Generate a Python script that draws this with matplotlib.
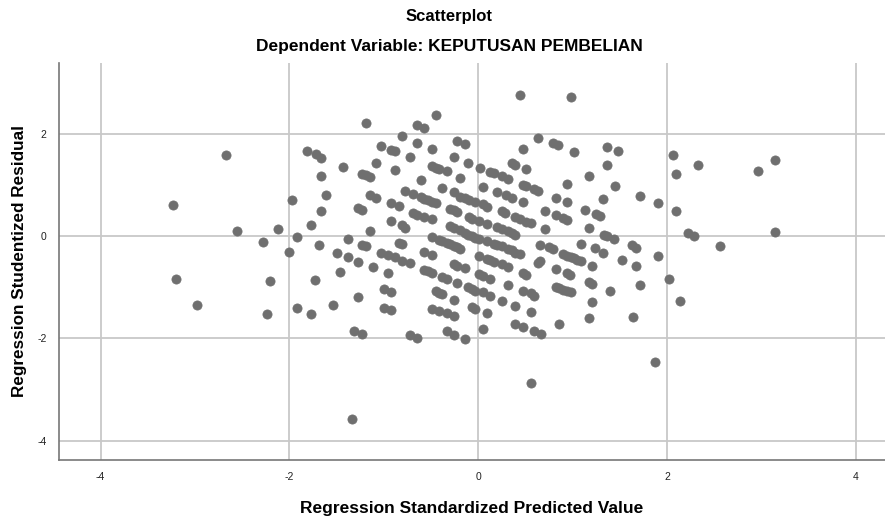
import matplotlib
matplotlib.use("Agg")
import matplotlib.pyplot as plt

plt.rcParams['font.family'] = ['Liberation Sans', 'DejaVu Sans']

pred = [0.44, 0.98, -0.45, -1.19, -0.65, -0.57, -0.81, 0.63, -0.22, -0.14, -0.65, 0.79, 0.85, -1.03, 1.36,
        -0.92, -0.88, -0.49, 0.48, 1.48, 1.02, -1.81, -1.72, -1.66, -2.67, 2.06, -0.72, -0.26, 3.15, -1.08,
        -0.11, 0.36, 0.39, -1.43, 1.36, 2.33, -0.49, -0.45, -0.41, -0.33, 0.02, 0.51, -0.88, 2.96, 0.13,
        0.17, 0.25, 0.32, -1.23, -1.19, -1.15, -1.66, 1.17, 2.10, -0.19, -0.61, 0.94, 0.48, 0.51, 0.59,
        0.63, 1.45, 0.05, -0.38, 0.20, 0.29, 0.36, -0.26, -0.77, -0.69, -0.61, -0.57, -0.53, -0.49, -0.45,
        -1.61, -1.15, -1.08, -0.19, -0.14, -0.10, -0.03, 0.05, 0.09, 0.82, 1.71, 1.32, -1.97, -3.23, 1.91,
        0.94, 0.47, -0.92, -0.84, 2.10, -1.27, -1.23, -0.30, -0.26, -0.22, 0.25, 0.28, 1.13, 0.71, -1.66,
        -0.69, -0.65, -0.57, -0.49, 0.82, 0.90, 0.94, 1.25, 1.29, -0.10, -0.06, 0.01, 0.39, 0.44, 0.51,
        0.56, -0.92, 0.09, -1.77, -0.81, -0.77, -0.30, -0.26, -0.19, 0.20, 0.25, 0.32, 0.36, 0.39, 1.17,
        0.71, -2.12, -2.55, -1.15, 3.15, 2.22, 2.29, 1.33, 1.37, 1.44, -0.14, -0.11, -0.07, -0.03, 0.01,
        0.09, -1.92, -0.49, -0.41, -0.38, -0.33, -0.30, -0.26, -0.22, -0.19, -1.38, -2.28, 0.17, 0.20,
        0.25, 0.32, 0.36, 0.39, 0.44, 1.09, -0.84, -0.81, -1.23, -1.19, 0.66, 0.75, 0.79, 1.63, 1.67,
        2.56, -1.69, 1.24, 1.32, -2.00, -0.57, -0.49, -1.50, -1.03, -0.96, -0.88, -0.81, -0.72, 0.01,
        0.09, 0.13, 0.17, 0.25, 0.32, 0.90, 0.94, 0.98, 1.02, 1.05, 1.09, 1.91, -1.38, -1.27, 1.52,
        -0.26, -0.22, -0.14, -1.11, -0.57, -0.53, -0.49, 0.66, 0.63, 1.21, 1.67, 0.82, 0.47, 0.51, 0.94,
        0.97, -1.46, -0.96, 0.01, 0.05, -0.38, -0.33, 0.13, -1.73, -3.20, -2.20, 2.02, -0.22, 0.32, 1.17,
        1.21, 1.71, 0.82, 0.86, 0.90, 0.94, 0.98, -0.11, -0.07, -0.03, 0.05, -1.00, -0.92, -0.45, -0.41,
        -0.38, 0.47, 0.56, 0.59, 1.40, 0.13, -1.27, -0.26, 0.25, 1.21, 2.14, -1.54, -2.98, 0.39, -0.07,
        -0.03, -1.00, -0.92, -0.49, -0.41, -1.92, 0.09, -0.33, -0.26, 0.56, -1.77, -2.24, 1.64, 1.17,
        0.39, 0.47, 0.86, 0.05, 0.59, 0.67, -1.31, -1.23, -0.33, -0.26, -0.72, -0.65, -0.14, 1.87, 0.56,
        -1.34]

resid = [2.76, 2.72, 2.38, 2.22, 2.17, 2.12, 1.97, 1.93, 1.86, 1.81, 1.83, 1.83, 1.79, 1.77, 1.75,
         1.69, 1.66, 1.71, 1.70, 1.66, 1.64, 1.66, 1.61, 1.53, 1.58, 1.58, 1.54, 1.54, 1.50, 1.44,
         1.43, 1.44, 1.40, 1.36, 1.40, 1.39, 1.37, 1.34, 1.31, 1.28, 1.34, 1.32, 1.30, 1.28, 1.26,
         1.24, 1.18, 1.12, 1.22, 1.19, 1.15, 1.18, 1.18, 1.21, 1.14, 1.10, 1.02, 1.01, 0.98, 0.93,
         0.89, 0.99, 0.96, 0.94, 0.87, 0.81, 0.74, 0.87, 0.88, 0.82, 0.76, 0.73, 0.70, 0.67, 0.65,
         0.80, 0.80, 0.75, 0.76, 0.74, 0.71, 0.67, 0.62, 0.58, 0.75, 0.79, 0.72, 0.71, 0.61, 0.65,
         0.67, 0.66, 0.65, 0.60, 0.50, 0.56, 0.52, 0.54, 0.52, 0.48, 0.49, 0.45, 0.52, 0.49, 0.49,
         0.45, 0.41, 0.37, 0.34, 0.41, 0.36, 0.32, 0.43, 0.40, 0.37, 0.34, 0.30, 0.38, 0.34, 0.28,
         0.25, 0.29, 0.24, 0.22, 0.21, 0.16, 0.19, 0.16, 0.12, 0.18, 0.14, 0.10, 0.06, 0.02, 0.16,
         0.14, 0.14, 0.10, 0.11, 0.08, 0.07, 0.01, 0.03, 0.00, -0.05, 0.06, 0.03, 0.00, -0.03, -0.05,
         -0.09, -0.02, -0.02, -0.08, -0.10, -0.14, -0.16, -0.19, -0.22, -0.25, -0.06, -0.11, -0.16, -0.18,
         -0.20, -0.25, -0.28, -0.32, -0.35, -0.16, -0.13, -0.16, -0.17, -0.20, -0.17, -0.22, -0.25, -0.18, -0.23,
         -0.19, -0.17, -0.24, -0.33, -0.31, -0.31, -0.36, -0.33, -0.33, -0.37, -0.41, -0.49, -0.53, -0.38,
         -0.44, -0.47, -0.50, -0.54, -0.61, -0.34, -0.38, -0.40, -0.42, -0.46, -0.49, -0.39, -0.41, -0.50, -0.46,
         -0.54, -0.58, -0.62, -0.61, -0.67, -0.69, -0.72, -0.49, -0.52, -0.58, -0.58, -0.65, -0.73, -0.76, -0.72,
         -0.76, -0.71, -0.73, -0.74, -0.77, -0.80, -0.83, -0.83, -0.86, -0.83, -0.87, -0.83, -0.92, -0.95, -0.89,
         -0.93, -0.95, -0.99, -1.02, -1.05, -1.07, -1.10, -1.00, -1.04, -1.07, -1.10, -1.04, -1.10, -1.08, -1.11,
         -1.14, -1.07, -1.11, -1.17, -1.07, -1.17, -1.19, -1.24, -1.26, -1.29, -1.26, -1.35, -1.35, -1.37, -1.39,
         -1.42, -1.40, -1.45, -1.42, -1.46, -1.41, -1.50, -1.51, -1.57, -1.48, -1.52, -1.53, -1.59, -1.61,
         -1.72, -1.78, -1.72, -1.81, -1.86, -1.92, -1.86, -1.92, -1.86, -1.94, -1.94, -1.99, -2.01, -2.46, -2.88,
         -3.58]

x_ticks = [-4, -2, 0, 2, 4]
y_ticks = [-4, -2, 0, 2]

fig = plt.figure(figsize=(8.85, 5.19), dpi=100)
ax = fig.add_axes([0.0667, 0.1137, 0.9333, 0.765])
ax.set_axisbelow(True)
ax.grid(True, color='#c8c8c8', linewidth=1.3)
ax.scatter(pred, resid, s=44, color='#6f6f6f', edgecolors='#6f6f6f', linewidths=0.5, zorder=3)

ax.set_xlim(-4.44, 4.31)
ax.set_ylim(-4.38, 3.39)
ax.set_xticks(x_ticks)
ax.set_yticks(y_ticks)
ax.set_xticklabels([str(t) for t in x_ticks])
ax.set_yticklabels([str(t) for t in y_ticks])
ax.tick_params(length=0, labelsize=7.5, colors='#222222', pad=9)
for s in ['top', 'right']:
    ax.spines[s].set_visible(False)
for s in ['left', 'bottom']:
    ax.spines[s].set_color('#777777')
    ax.spines[s].set_linewidth(1.2)

ax.set_xlabel('Regression Standardized Predicted Value', fontsize=12.5, fontweight='bold', labelpad=13)
ax.set_ylabel('Regression Studentized Residual', fontsize=12.3, fontweight='bold', labelpad=7)

fig.text(449 / 885, 1 - 17 / 519, 'Scatterplot', ha='center', va='center',
         fontsize=12, fontweight='bold')
fig.text(449 / 885, 1 - 47 / 519, 'Dependent Variable: KEPUTUSAN PEMBELIAN', ha='center',
         va='center', fontsize=12.5, fontweight='bold')

fig.savefig('out.png', dpi=100)
